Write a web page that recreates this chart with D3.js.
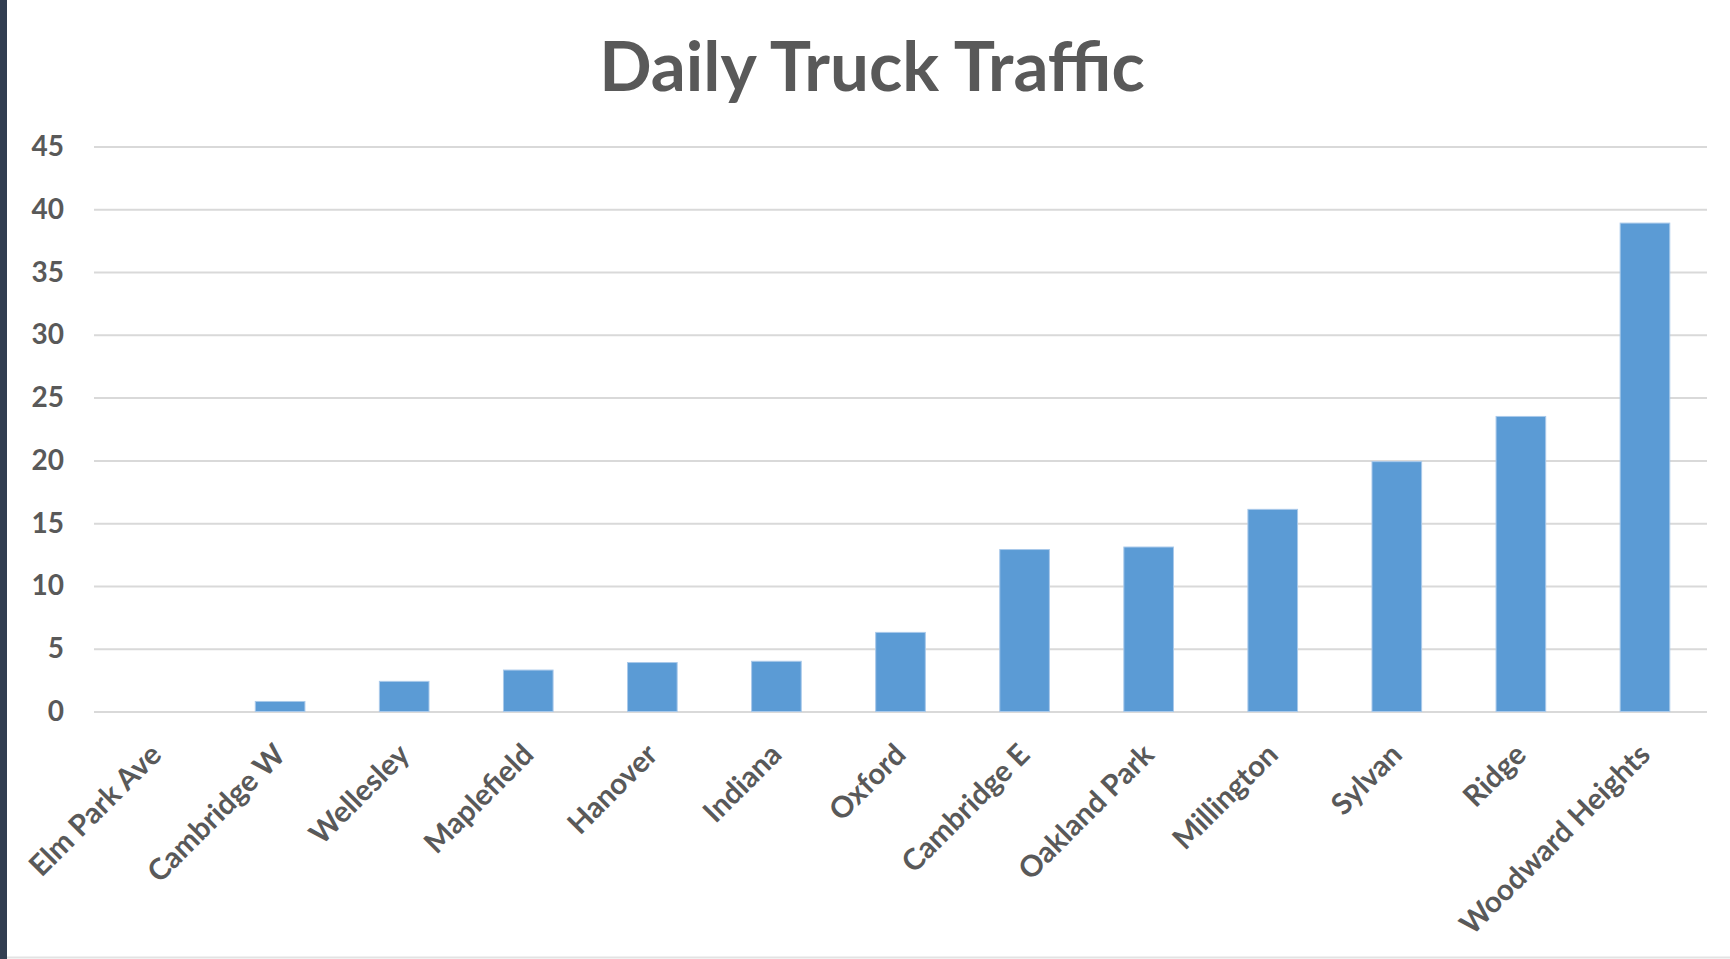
<!DOCTYPE html>
<html>
<head>
<meta charset="utf-8">
<script src="https://cdn.jsdelivr.net/npm/d3@7.9.0/dist/d3.min.js"></script>
<style>
  html, body { margin: 0; padding: 0; background: #fff; }
  svg { display: block; }
  text { font-family: Lato, "Open Sans", sans-serif; fill: #595959; }
</style>
</head>
<body>
<svg id="chart" width="1730" height="959"></svg>
<script>
const title = "Daily Truck Traffic";
const sites = [
  "Elm Park Ave", "Cambridge W", "Wellesley", "Maplefield", "Hanover",
  "Indiana", "Oxford", "Cambridge E", "Oakland Park", "Millington",
  "Sylvan", "Ridge", "Woodward Heights",
];
const trucks = [0, 0.8, 2.4, 3.3, 3.9, 4.0, 6.3, 12.9, 13.1, 16.1, 19.9, 23.5, 38.9];
const yTicks = [0, 5, 10, 15, 20, 25, 30, 35, 40, 45];

const width = 1730;
const height = 959;
const plot = { left: 94, right: 1707, top: 146.5, bottom: 711.5 };

const svg = d3.select("#chart");

// slide frame: dark strip on the left, faint line along the bottom
svg.append("rect")
  .attr("x", 0).attr("y", 0)
  .attr("width", 7).attr("height", height)
  .attr("fill", "#313d50");
svg.append("line")
  .attr("x1", 7).attr("x2", width)
  .attr("y1", height - 1.5).attr("y2", height - 1.5)
  .attr("stroke", "#e3e3e3").attr("stroke-width", 2);

const x = d3.scaleBand()
  .domain(sites)
  .range([plot.left, plot.right])
  .paddingInner(0.6)
  .paddingOuter(0.3);

const y = d3.scaleLinear()
  .domain([0, 45])
  .range([plot.bottom, plot.top]);

// gridlines + y labels
const yAxis = d3.axisLeft(y)
  .tickValues(yTicks)
  .tickSize(-(plot.right - plot.left))
  .tickPadding(30);

svg.append("g")
  .attr("transform", `translate(${plot.left},0)`)
  .call(yAxis)
  .call((g) => g.select(".domain").remove())
  .call((g) => g.selectAll(".tick line")
    .attr("stroke", "#d9d9d9")
    .attr("stroke-width", 2))
  .call((g) => g.selectAll(".tick text")
    .attr("font-size", 28)
    .attr("font-weight", 700)
    .attr("font-family", "Lato, sans-serif")
    .attr("fill", "#595959"));

// bars
svg.append("g")
  .selectAll("rect")
  .data(sites)
  .join("rect")
  .attr("x", (d) => x(d))
  .attr("width", x.bandwidth())
  .attr("y", (d, i) => y(trucks[i]))
  .attr("height", (d, i) => y(0) - y(trucks[i]))
  .attr("fill", "#5b9bd5")
  .attr("stroke", "#a9c9ea")
  .attr("stroke-width", (d, i) => (trucks[i] > 0 ? 1 : 0));

// category labels, rotated
svg.append("g")
  .selectAll("text")
  .data(sites)
  .join("text")
  .attr("transform", (d) =>
    `translate(${x(d) + x.bandwidth() / 2 + 7},${plot.bottom + 45}) rotate(-45)`)
  .attr("text-anchor", "end")
  .attr("font-size", 29.5)
  .attr("font-weight", 700)
  .text((d) => d);

svg.append("text")
  .attr("x", 872)
  .attr("y", 91)
  .attr("text-anchor", "middle")
  .attr("font-size", 69)
  .attr("font-weight", 700)
  .text(title);
</script>
</body>
</html>
